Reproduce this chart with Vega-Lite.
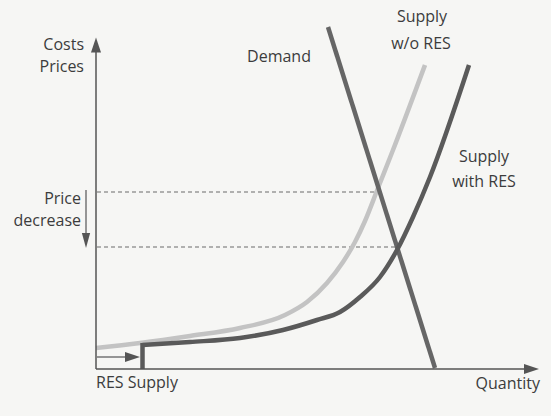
{
  "$schema": "https://vega.github.io/schema/vega-lite/v6.json",
  "width": 444,
  "height": 329,
  "autosize": "none",
  "padding": {"left": 96, "top": 40, "right": 11, "bottom": 47},
  "background": "#f6f6f4",
  "config": {"view": {"stroke": null}},
  "datasets": {
    "axes": [
      {"seg": "y", "i": 0, "x": 0, "y": 0}, {"seg": "y", "i": 1, "x": 0, "y": 318},
      {"seg": "x", "i": 0, "x": 0, "y": 0}, {"seg": "x", "i": 1, "x": 428, "y": 0}
    ],
    "dashed": [
      {"seg": "a", "i": 0, "x": 1, "y": 177}, {"seg": "a", "i": 1, "x": 282, "y": 177},
      {"seg": "b", "i": 0, "x": 1, "y": 122}, {"seg": "b", "i": 1, "x": 301, "y": 122}
    ],
    "arrows": [
      {"seg": "pd", "i": 0, "x": -10, "y": 179}, {"seg": "pd", "i": 1, "x": -10, "y": 136},
      {"seg": "res", "i": 0, "x": 1, "y": 12}, {"seg": "res", "i": 1, "x": 30, "y": 12}
    ],
    "heads": [
      {"dir": "up", "x": 0, "y": 324},
      {"dir": "right", "x": 435.5, "y": 0},
      {"dir": "down", "x": -10, "y": 128.5},
      {"dir": "right", "x": 36.5, "y": 12}
    ],
    "demand": [
      {"x": 232, "y": 342}, {"x": 339, "y": 1}
    ],
    "supplyNoRes": [
      {"x": 0, "y": 21}, {"x": 44, "y": 26}, {"x": 94, "y": 33}, {"x": 144, "y": 41},
      {"x": 189, "y": 54}, {"x": 211, "y": 67}, {"x": 231, "y": 86}, {"x": 247, "y": 107},
      {"x": 259, "y": 127}, {"x": 269, "y": 148}, {"x": 282, "y": 181}, {"x": 297, "y": 219},
      {"x": 329, "y": 304}
    ],
    "supplyResStep": [
      {"i": 0, "x": 46.5, "y": 0}, {"i": 1, "x": 46.5, "y": 26}
    ],
    "supplyRes": [
      {"x": 46.5, "y": 24}, {"x": 94, "y": 27}, {"x": 144, "y": 31}, {"x": 187, "y": 39},
      {"x": 221, "y": 49}, {"x": 244, "y": 57}, {"x": 264, "y": 72}, {"x": 284, "y": 92},
      {"x": 301, "y": 119}, {"x": 317, "y": 152}, {"x": 334, "y": 192}, {"x": 373, "y": 304}
    ],
    "labelsRight": [
      {"t": "Costs", "x": -12, "y": 324},
      {"t": "Prices", "x": -12, "y": 302},
      {"t": "Price", "x": -15, "y": 170},
      {"t": "decrease", "x": -15, "y": 148},
      {"t": "Quantity", "x": 444, "y": -15}
    ],
    "labelsCenter": [
      {"t": "Demand", "x": 183, "y": 312},
      {"t": "Supply", "x": 326, "y": 352},
      {"t": "w/o RES", "x": 325, "y": 325},
      {"t": "Supply", "x": 388, "y": 212},
      {"t": "with RES", "x": 388, "y": 187}
    ],
    "labelsLeft": [
      {"t": "RES Supply", "x": 0, "y": -14}
    ]
  },
  "encoding": {
    "x": {"field": "x", "type": "quantitative", "scale": {"domain": [0, 444], "nice": false, "zero": false}, "axis": null},
    "y": {"field": "y", "type": "quantitative", "scale": {"domain": [0, 329], "nice": false, "zero": false}, "axis": null}
  },
  "layer": [
    {
      "data": {"name": "dashed"},
      "mark": {"type": "line", "color": "#6a6a6a", "strokeWidth": 1, "strokeDash": [4, 3]},
      "encoding": {"detail": {"field": "seg"}, "order": {"field": "i"}}
    },
    {
      "data": {"name": "supplyNoRes"},
      "mark": {"type": "line", "color": "#c3c3c3", "strokeWidth": 4.5, "interpolate": "monotone"},
      "encoding": {}
    },
    {
      "data": {"name": "demand"},
      "mark": {"type": "line", "color": "#666666", "strokeWidth": 4.5},
      "encoding": {}
    },
    {
      "data": {"name": "supplyResStep"},
      "mark": {"type": "line", "color": "#5a5a5a", "strokeWidth": 4.5},
      "encoding": {"order": {"field": "i"}}
    },
    {
      "data": {"name": "supplyRes"},
      "mark": {"type": "line", "color": "#5a5a5a", "strokeWidth": 4.5, "interpolate": "monotone"},
      "encoding": {}
    },
    {
      "data": {"name": "axes"},
      "mark": {"type": "line", "color": "#555555", "strokeWidth": 1.5},
      "encoding": {"detail": {"field": "seg"}, "order": {"field": "i"}}
    },
    {
      "data": {"name": "arrows"},
      "mark": {"type": "line", "color": "#555555", "strokeWidth": 1.2},
      "encoding": {"detail": {"field": "seg"}, "order": {"field": "i"}}
    },
    {
      "data": {"name": "heads"},
      "mark": {"type": "point", "filled": true, "color": "#555555", "size": 225, "opacity": 1},
      "encoding": {
        "shape": {"field": "dir", "type": "nominal", "scale": {"domain": ["up", "right", "down"], "range": ["M-0.67,1L0,-1L0.67,1Z", "M-1,-0.67L1,0L-1,0.67Z", "M-0.55,-1L0,1L0.55,-1Z"]}, "legend": null}
      }
    },
    {
      "data": {"name": "labelsRight"},
      "mark": {"type": "text", "align": "right", "baseline": "middle", "font": "Open Sans", "fontSize": 16, "color": "#3c3c3c"},
      "encoding": {"text": {"field": "t"}}
    },
    {
      "data": {"name": "labelsCenter"},
      "mark": {"type": "text", "align": "center", "baseline": "middle", "font": "Open Sans", "fontSize": 16, "color": "#3c3c3c"},
      "encoding": {"text": {"field": "t"}}
    },
    {
      "data": {"name": "labelsLeft"},
      "mark": {"type": "text", "align": "left", "baseline": "middle", "font": "Open Sans", "fontSize": 16, "color": "#3c3c3c"},
      "encoding": {"text": {"field": "t"}}
    }
  ]
}
